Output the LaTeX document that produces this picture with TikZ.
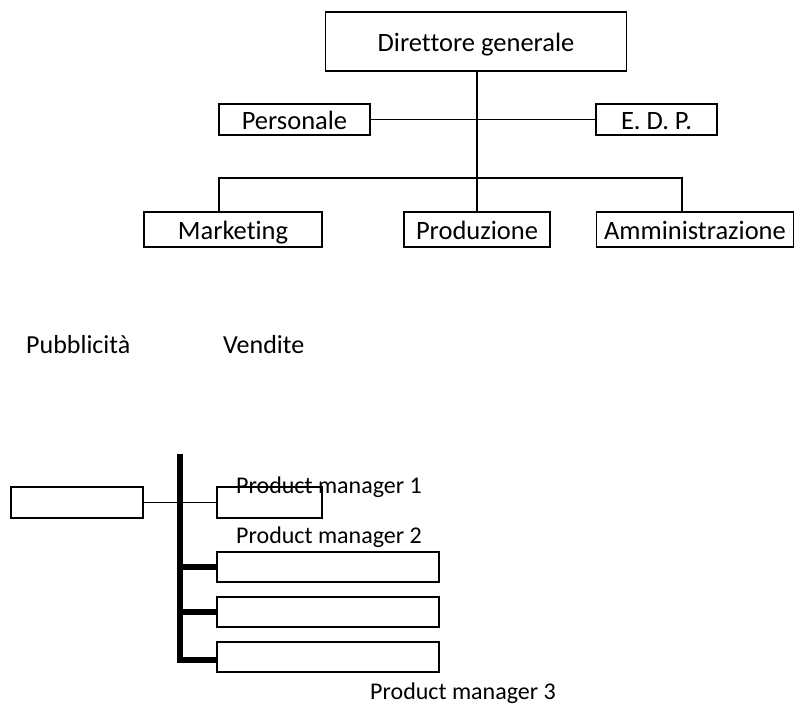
\documentclass[tikz,border=0pt]{standalone}
\usepackage{fontspec}
\setmainfont{Carlito}[Ligatures=NoCommon]
\begin{document}
\begin{tikzpicture}[x=1pt,y=-1pt,
  box/.style={draw=black, line width=1.1pt, inner sep=0pt, text height=19pt, text depth=0pt,
              font=\fontsize{26.5}{30}\selectfont},
  link/.style={line width=1.1pt},
  spine/.style={line width=5.5pt},
  lbl/.style={inner sep=0pt, anchor=base west, font=\fontsize{24}{28}\selectfont},
  biglbl/.style={lbl, font=\fontsize{26}{30}\selectfont}]
\useasboundingbox (0,0) rectangle (795,707);

% --- upper chart ---
\node[box, minimum width=301pt, minimum height=59pt] (dg)   at (476,41.5)    {Direttore generale};
\node[box, minimum width=151pt, minimum height=31pt] (pers) at (294.5,119.5) {Personale};
\node[box, minimum width=121pt, minimum height=31pt] (edp)  at (656.5,119.5) {E.\ D.\ P.};
\node[box, minimum width=178pt, minimum height=35pt] (mkt)  at (233,229.5)   {Marketing};
\node[box, minimum width=146pt, minimum height=35pt] (prod) at (477,229.5)   {Produzione};
\node[box, minimum width=197pt, minimum height=35pt] (amm)  at (695,229.5)   {Amministrazione};

\draw[link] (dg.south -| prod.north) -- (prod.north);
\draw[link] (pers.east) -- (edp.west);
\coordinate (jl) at (219,178);
\coordinate (jr) at (682,178);
\draw[link] (mkt.north -| jl) -- (jl) -- (jr) -- (amm.north -| jr);

% --- loose labels ---
\node[biglbl] (pub) at (26,353)  {Pubblicità};
\node[biglbl] (ven) at (223,353) {Vendite};

% --- lower chart ---
\node[box, minimum width=132pt, minimum height=31pt] (head) at (77,502.5)    {};
\node[box, minimum width=105pt, minimum height=31pt] (pm1)  at (269.5,502.5) {};
\node[box, minimum width=222pt, minimum height=30pt] (pm2)  at (328,567)     {};
\node[box, minimum width=222pt, minimum height=30pt] (pm3)  at (328,612)     {};
\node[box, minimum width=222pt, minimum height=30pt] (pm4)  at (328,657)     {};

\coordinate (spt) at (180,454);
\coordinate (spb) at (180,663);
\coordinate (kb)  at (180,660);
\draw[link] (head.east) -- (pm1.west);
\draw[spine] (spt) -- (spb);
\draw[spine] (pm2.west -| spt) -- (pm2.west);
\draw[spine] (pm3.west -| spt) -- (pm3.west);
\draw[spine] (kb) -- (kb -| pm4.west);

\node[lbl] (l1) at (236,493) {Product manager 1};
\node[lbl] (l2) at (236,543) {Product manager 2};
\node[lbl] (l3) at (370,699) {Product manager 3};
\end{tikzpicture}
\end{document}
